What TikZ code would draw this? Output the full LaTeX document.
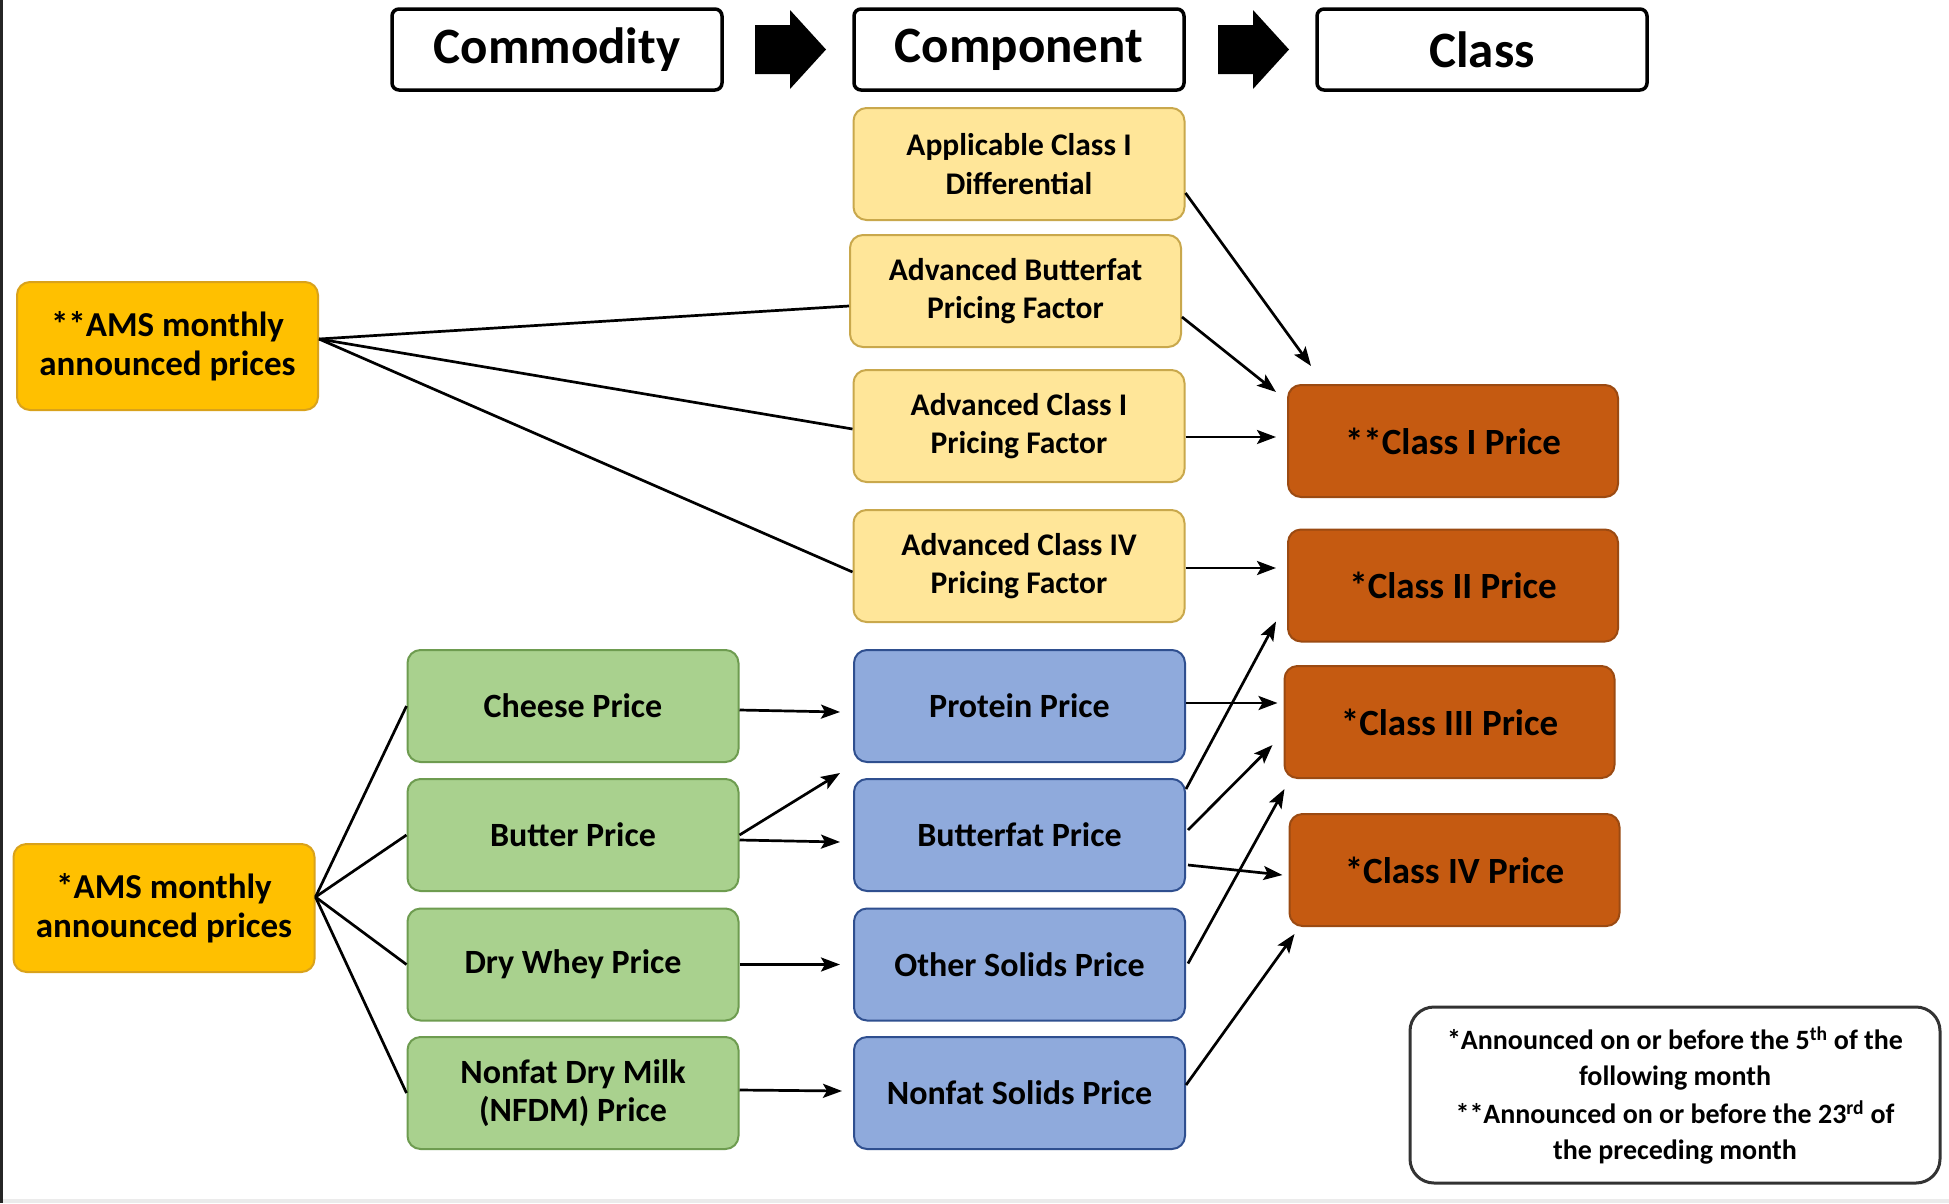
\documentclass[tikz,border=0pt]{standalone}
\usepackage{fontspec}
\setmainfont{Carlito}
\usetikzlibrary{calc,arrows.meta}
\definecolor{amsf}{HTML}{FFC000}
\definecolor{amsd}{HTML}{D9A21B}
\definecolor{yelf}{HTML}{FFE699}
\definecolor{yeld}{HTML}{C9A84C}
\definecolor{grnf}{HTML}{A9D18E}
\definecolor{grnd}{HTML}{6E9C50}
\definecolor{bluf}{HTML}{8FAADC}
\definecolor{blud}{HTML}{2F4F8F}
\definecolor{orgf}{HTML}{C55A11}
\definecolor{orgd}{HTML}{9B4A12}
\tikzset{
  hdr/.style={draw=black, line width=3.5pt, rounded corners=7pt, fill=white, minimum width=330pt, minimum height=81pt, inner sep=0pt, font=\bfseries\fontsize{51}{60}\selectfont},
  cbox/.style={rounded corners=13pt, line width=2pt, align=center, inner sep=0pt, minimum height=112pt, minimum width=331pt},
  amsbox/.style={cbox, fill=amsf, draw=amsd, minimum width=301pt, minimum height=128pt, font=\bfseries\fontsize{35}{38.5}\selectfont},
  ylbox/.style={cbox, fill=yelf, draw=yeld, font=\bfseries\fontsize{31.5}{38.5}\selectfont},
  gnbox/.style={cbox, fill=grnf, draw=grnd, font=\bfseries\fontsize{34}{38.5}\selectfont},
  blbox/.style={cbox, fill=bluf, draw=blud, font=\bfseries\fontsize{34}{38.5}\selectfont},
  orbox/.style={cbox, fill=orgf, draw=orgd, minimum width=330pt, font=\bfseries\fontsize{37}{42}\selectfont},
  notebox/.style={draw=black!80, line width=3pt, rounded corners=24pt, align=center, inner sep=0pt, minimum width=530pt, minimum height=176pt, font=\bfseries\fontsize{28}{36}\selectfont},
  ln/.style={line width=2.7pt, black},
  arr/.style={line width=2.7pt, black, -{Stealth[length=19pt,width=14pt,inset=4pt]}},
}
\begin{document}
\begin{tikzpicture}[x=1pt,y=-1pt]
\useasboundingbox (0,0) rectangle (1949,1203);
\fill[white] (0,0) rectangle (1949,1203);
\fill[black!85] (0,0) rectangle (3,1203);
\fill[black!8] (3,1199) rectangle (1949,1203);

% headers
\node[hdr] (hcom) at (557,49.5) {Commodity};
\node[hdr] (hcmp) at (1019,49.5) {Component};
\node[hdr] (hcls) at (1482,49.5) {Class};
\fill[black] (755,25) -- (790,25) -- (790,10) -- (826,49.5) -- (790,89) -- (790,74) -- (755,74) -- cycle;
\fill[black] (1218,25) -- (1253,25) -- (1253,10) -- (1289,49.5) -- (1253,89) -- (1253,74) -- (1218,74) -- cycle;

% sources
\node[amsbox] (ams1) at (167.5,346) {**AMS monthly\\announced prices};
\node[amsbox] (ams2) at (164,908) {*AMS monthly\\announced prices};

% component (yellow)
\node[ylbox] (app) at (1019,164) {Applicable Class I\\Differential};
\node[ylbox] (abf) at (1015.5,291) {Advanced Butterfat\\Pricing Factor};
\node[ylbox] (acI) at (1019,426) {Advanced Class I\\Pricing Factor};
\node[ylbox] (acIV) at (1019,566) {Advanced Class IV\\Pricing Factor};

% commodity (green)
\node[gnbox] (chs) at (573,706) {Cheese Price};
\node[gnbox] (btr) at (573,835) {Butter Price};
\node[gnbox] (why) at (573,964.5) {Dry Whey Price};
\node[gnbox] (nfd) at (573,1093) {Nonfat Dry Milk\\(NFDM) Price};

% component (blue)
\node[blbox] (pro) at (1019.5,706) {Protein Price};
\node[blbox] (bft) at (1019.5,835) {Butterfat Price};
\node[blbox] (osl) at (1019.5,964.5) {Other Solids Price};
\node[blbox] (nsl) at (1019.5,1093) {Nonfat Solids Price};

% classes
\node[orbox] (c1) at (1453,441) {**Class I Price};
\node[orbox] (c2) at (1453,585.5) {*Class II Price};
\node[orbox] (c3) at (1449.5,722) {*Class III Price};
\node[orbox] (c4) at (1454.5,870) {*Class IV Price};

% note
\node[notebox] (note) at (1675,1095) {*Announced on or before the 5\textsuperscript{th} of the\\following month\\[2pt]**Announced on or before the 23\textsuperscript{rd} of\\the preceding month};

% AMS top lines
\draw[ln] ($(ams1.east)+(0,-7)$) -- ($(abf.west)+(0,15)$);
\draw[ln] ($(ams1.east)+(0,-7)$) -- ($(acI.west)+(0,3)$);
\draw[ln] ($(ams1.east)+(0,-7)$) -- ($(acIV.west)+(0,6)$);

% AMS bottom lines
\draw[ln] ($(ams2.east)+(0,-11)$) -- (chs.west);
\draw[ln] ($(ams2.east)+(0,-11)$) -- (btr.west);
\draw[ln] ($(ams2.east)+(0,-11)$) -- (why.west);
\draw[ln] ($(ams2.east)+(0,-11)$) -- (nfd.west);

% green -> blue
\draw[arr] ($(chs.east)+(0,4)$) -- ($(pro.west)+(-13,6)$);
\draw[arr] (btr.east) -- ($(pro.south west)+(-13,10)$);
\draw[arr] ($(btr.east)+(0,5)$) -- ($(bft.west)+(-13,7)$);
\draw[arr] (why.east) -- ($(osl.west)+(-13,0)$);
\draw[arr] ($(nfd.east)+(0,-3)$) -- ($(nsl.west)+(-11,-2)$);

% yellow -> class
\draw[arr] ($(app.east)+(0,29)$) -- ($(c1.north west)+(24,-18)$);
\draw[arr] ($(abf.east)+(0,26)$) -- ($(c1.north west)+(-11,8)$);
\draw[arr] ($(acI.east)+(0,11)$) -- ($(c1.west)+(-11,-4)$);
\draw[arr] ($(acIV.east)+(0,2)$) -- ($(c2.west)+(-11,-17.5)$);

% blue -> class
\draw[arr] ($(pro.east)+(0,-3)$) -- ($(c3.west)+(-6,-19)$);
\draw[arr] ($(bft.north east)+(0,11)$) -- ($(c2.south west)+(-11,-21)$);
\draw[arr] ($(bft.east)+(2,-5)$) -- ($(c3.west)+(-11,23)$);
\draw[arr] ($(bft.east)+(2,30)$) -- ($(c4.west)+(-6,5)$);
\draw[arr] ($(osl.east)+(2,-1)$) -- ($(c3.south west)+(1,10)$);
\draw[arr] ($(nsl.east)+(0,-8)$) -- ($(c4.south west)+(6,7)$);
\end{tikzpicture}
\end{document}
